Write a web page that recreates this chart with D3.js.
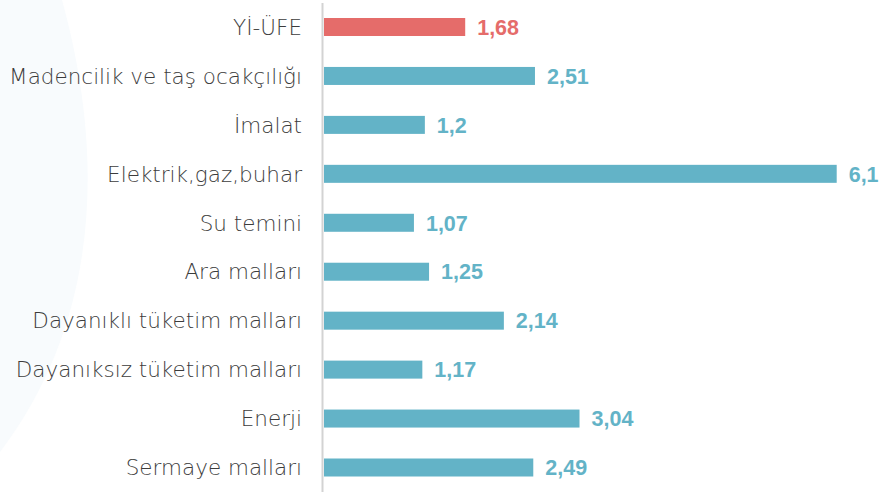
<!DOCTYPE html>
<html lang="tr">
  <head>
    <meta charset="UTF-8" />
    <title>YI-ÜFE</title>
    <style>
      body { margin: 0; background: #fff; }
    </style>
  </head>
  <body>
    <svg id="svg" width="879" height="494"></svg>

    <script src="https://cdn.jsdelivr.net/npm/d3@7"></script>
    <script>
      const categories = [
        "Yİ-ÜFE",
        "Madencilik ve taş ocakçılığı",
        "İmalat",
        "Elektrik,gaz,buhar",
        "Su temini",
        "Ara malları",
        "Dayanıklı tüketim malları",
        "Dayanıksız tüketim malları",
        "Enerji",
        "Sermaye malları",
      ];
      const values = [1.68, 2.51, 1.2, 6.1, 1.07, 1.25, 2.14, 1.17, 3.04, 2.49];
      const valueLabels = ["1,68", "2,51", "1,2", "6,1", "1,07", "1,25", "2,14", "1,17", "3,04", "2,49"];

      const data = categories.map((c, i) => ({ name: c, value: values[i], label: valueLabels[i] }));

      const svg = d3.select("#svg");

      // faint decorative arc on the left
      svg.append("path")
        .attr("d", "M0,0 L62,0 C95,120 115,300 0,452 Z")
        .attr("fill", "#f8fbfd");

      const xScale = d3.scaleLinear().domain([0, 6.1]).range([324, 836.7]);
      const yScale = d3.scalePoint().domain(categories).range([27, 467.5]);
      const barH = 18;
      const color = (d, i) => (i === 0 ? "#e56c6a" : "#63b3c7");

      svg.append("line")
        .attr("x1", 322.5).attr("x2", 322.5)
        .attr("y1", 3).attr("y2", 492)
        .attr("stroke", "#d3d3d3")
        .attr("stroke-width", 2);

      svg.selectAll("rect.bar")
        .data(data)
        .enter()
        .append("rect")
        .attr("class", "bar")
        .attr("x", xScale(0))
        .attr("y", (d) => yScale(d.name) - barH / 2)
        .attr("width", (d) => xScale(d.value) - xScale(0))
        .attr("height", barH)
        .attr("fill", color);

      svg.selectAll("text.cat")
        .data(data)
        .enter()
        .append("text")
        .attr("class", "cat")
        .attr("x", 302)
        .attr("y", (d) => yScale(d.name))
        .attr("dy", "0.36em")
        .attr("text-anchor", "end")
        .attr("font-family", "'DejaVu Sans', sans-serif")
        .attr("font-weight", 200)
        .attr("font-size", 21.5)
        .attr("fill", "#3c3c3c")
        .text((d) => d.name);

      svg.selectAll("text.val")
        .data(data)
        .enter()
        .append("text")
        .attr("class", "val")
        .attr("x", (d) => xScale(d.value) + 12)
        .attr("y", (d) => yScale(d.name))
        .attr("dy", "0.36em")
        .attr("font-family", "'Liberation Sans', Arial, sans-serif")
        .attr("font-weight", "bold")
        .attr("font-size", 21.5)
        .attr("fill", color)
        .text((d) => d.label);
    </script>
  </body>
</html>
